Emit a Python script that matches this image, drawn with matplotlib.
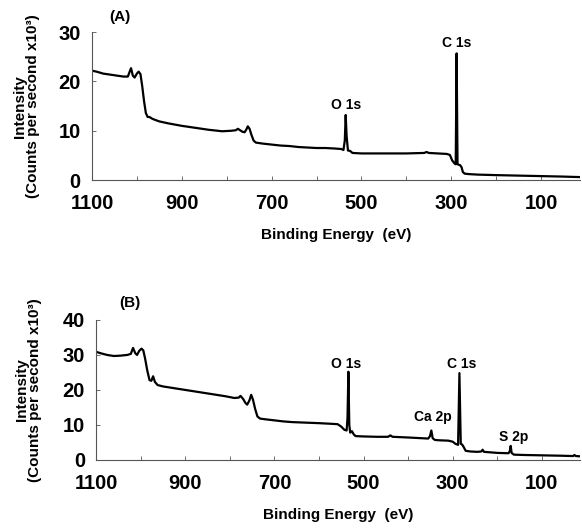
import matplotlib
matplotlib.use("Agg")
import matplotlib.pyplot as plt

plt.rcParams["font.family"] = ["Liberation Sans", "DejaVu Sans"]
plt.rcParams["font.weight"] = "bold"

# (A) survey spectrum: binding energy (eV) and intensity (counts/s x10^3)
a_be = [1100, 1090, 1075, 1060, 1045, 1030, 1020, 1016, 1013, 1009, 1005, 1000,
        996, 992, 988, 984, 980, 976, 972, 965, 950, 930, 900, 870, 840, 810,
        790, 780, 775, 770, 765, 760, 756, 753, 749, 745, 740, 735, 720, 700,
        680, 660, 640, 620, 600, 580, 560, 545, 540, 537, 535, 533, 530, 525,
        520, 500, 450, 400, 360, 355, 350, 330, 310, 303, 298, 293, 290, 288,
        286, 283, 280, 277, 274, 270, 260, 240, 200, 150, 100, 50, 14]
a_int = [22.2, 22.0, 21.6, 21.4, 21.2, 21.0, 21.0, 22.0, 22.7, 21.2, 20.8, 21.6,
         22.0, 21.5, 19.0, 16.0, 13.6, 12.8, 12.8, 12.4, 11.9, 11.5, 11.0, 10.6,
         10.2, 9.9, 10.0, 10.1, 10.4, 10.1, 9.8, 9.7, 10.3, 10.9, 10.4, 9.2, 8.0,
         7.6, 7.4, 7.2, 7.0, 6.9, 6.7, 6.6, 6.5, 6.5, 6.4, 6.3, 6.1, 8.0, 13.2,
         9.0, 6.0, 5.9, 5.5, 5.4, 5.4, 5.4, 5.5, 5.7, 5.5, 5.4, 5.3, 5.1, 4.0,
         3.4, 3.2, 25.7, 3.2, 3.1, 3.0, 2.6, 1.6, 1.3, 1.2, 1.1, 1.0, 0.9, 0.8,
         0.7, 0.6]

# (B) survey spectrum
b_be = [1100, 1090, 1075, 1060, 1045, 1030, 1022, 1017, 1012, 1008, 1003, 998,
        994, 990, 985, 980, 976, 972, 968, 962, 950, 930, 900, 870, 840, 810,
        790, 780, 776, 770, 765, 761, 756, 752, 748, 743, 738, 732, 720, 700,
        680, 660, 640, 600, 570, 558, 550, 543, 538, 536, 534, 532, 530, 526,
        522, 518, 500, 470, 445, 440, 435, 400, 370, 355, 351, 348, 345, 340,
        330, 310, 300, 294, 288, 285, 282, 279, 276, 271, 260, 245, 236, 233,
        230, 200, 175, 172, 170, 168, 163, 140, 100, 60, 30, 27, 24, 12]
b_int = [30.9, 30.5, 30.0, 29.7, 29.8, 30.0, 30.3, 32.0, 30.5, 30.0, 31.2, 31.8,
         31.3, 29.0, 25.5, 22.8, 22.6, 23.9, 22.3, 21.4, 21.0, 20.6, 20.0, 19.4,
         18.8, 18.2, 17.7, 17.8, 18.3, 17.4, 16.3, 15.8, 17.0, 18.6, 17.2, 14.5,
         12.4, 11.8, 11.6, 11.3, 11.0, 10.8, 10.7, 10.5, 10.3, 10.2, 9.5, 8.6,
         8.4, 12.0, 25.2, 10.0, 7.8, 8.2, 7.3, 6.8, 6.7, 6.6, 6.6, 7.0, 6.6, 6.4,
         6.2, 6.1, 6.8, 8.4, 6.2, 5.7, 5.6, 5.5, 5.2, 4.6, 4.3, 24.8, 4.6, 4.4,
         3.8, 2.6, 2.4, 2.3, 2.4, 2.9, 2.3, 2.0, 1.9, 2.5, 4.0, 2.0, 1.5, 1.4,
         1.3, 1.2, 1.1, 1.4, 1.1, 1.0]

a_peaks = [("O 1s", 533, 15.2), ("C 1s", 287, 27.8)]
b_peaks = [("O 1s", 538, 27.4), ("C 1s", 280, 27.4),
           ("Ca 2p", 345, 12.3), ("S 2p", 163, 6.6)]

x_major = [1100, 900, 700, 500, 300, 100]
x_minor = [1000, 800, 600, 400, 200]
AXIS_COL = "#555555"


def style_axis(ax, yticks, ymax, label_x):
    ax.set_xlim(1100, 14)
    ax.set_ylim(0, ymax)
    ax.set_xticks(x_major)
    ax.set_xticks(x_minor, minor=True)
    ax.set_yticks(yticks)
    for side in ["top", "right"]:
        ax.spines[side].set_visible(False)
    for side in ["left", "bottom"]:
        ax.spines[side].set_linewidth(0.8)
        ax.spines[side].set_color(AXIS_COL)
    ax.tick_params(axis="both", which="both", direction="in", length=3,
                   width=0.6, color=AXIS_COL, labelsize=14.5)
    ax.tick_params(axis="x", pad=10)
    ax.tick_params(axis="y", pad=8)
    for lab in ax.get_xticklabels() + ax.get_yticklabels():
        lab.set_fontweight("bold")
    ax.set_xlabel("Binding Energy  (eV)", fontsize=11, fontweight="bold",
                  labelpad=11)
    ax.set_ylabel("Intensity\n(Counts per second x10³)", fontsize=11,
                  fontweight="bold", linespacing=0.85)
    ax.yaxis.set_label_coords(label_x, 0.5)


fig = plt.figure(figsize=(5.82, 5.28), dpi=100)

ax1 = fig.add_axes([0.158, 0.659, 0.838, 0.280])
ax1.plot(a_be, a_int, color="black", lw=1.6)
style_axis(ax1, [0, 10, 20, 30], 30, -0.107)
for name, x, y in a_peaks:
    ax1.text(x, y, name, ha="center", va="center", fontsize=10, fontweight="bold")

ax2 = fig.add_axes([0.165, 0.129, 0.832, 0.265])
ax2.plot(b_be, b_int, color="black", lw=1.6)
style_axis(ax2, [0, 10, 20, 30, 40], 40, -0.112)
for name, x, y in b_peaks:
    ax2.text(x, y, name, ha="center", va="center", fontsize=10, fontweight="bold")

fig.text(120 / 582, 1 - 17 / 528, "(A)", ha="center", va="center",
         fontsize=11, fontweight="bold")
fig.text(130 / 582, 1 - 303 / 528, "(B)", ha="center", va="center",
         fontsize=11, fontweight="bold")

fig.savefig("out.png", dpi=100)
